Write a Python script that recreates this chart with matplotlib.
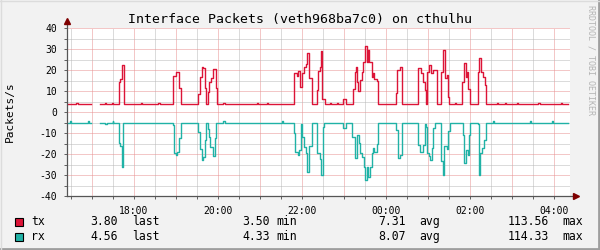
# -*- coding: utf-8 -*-

"""
Interface packets graph, rrdtool style
"""

import matplotlib
matplotlib.use('Agg')
import matplotlib.pyplot as plt
import numpy as np


# =============================================================================
# Data (hours since midnight of the first day, values in packets/s)
# =============================================================================
TX_T = [16.40, 16.62, 16.66, 16.97, 17.19, 17.30, 17.33, 17.48, 17.51, 17.64,
        17.67, 17.71, 17.76, 18.16, 18.19, 18.58, 18.61, 18.94, 18.99, 19.07,
        19.12, 19.53, 19.57, 19.62, 19.64, 19.68, 19.71, 19.75, 19.79, 19.83,
        19.89, 19.95, 19.98, 20.13, 20.16, 20.92, 20.95, 21.16, 21.19, 21.82,
        21.87, 21.91, 21.95, 22.00, 22.05, 22.10, 22.13, 22.17, 22.23, 22.35,
        22.38, 22.43, 22.46, 22.48, 22.55, 22.67, 22.69, 22.83, 22.85, 22.98,
        23.04, 23.22, 23.26, 23.29, 23.31, 23.34, 23.38, 23.42, 23.46, 23.50,
        23.54, 23.56, 23.60, 23.66, 23.68, 23.71, 23.78, 23.82, 24.24, 24.27,
        24.33, 24.38, 24.77, 24.83, 24.89, 24.93, 24.95, 24.98, 25.03, 25.06,
        25.11, 25.21, 25.31, 25.36, 25.40, 25.44, 25.48, 25.51, 25.64, 25.67,
        25.82, 25.86, 25.90, 25.93, 25.96, 26.00, 26.18, 26.22, 26.26, 26.32,
        26.36, 26.37, 26.64, 26.67, 26.83, 26.86, 27.11, 27.14, 27.63, 27.66,
        28.17, 28.20, 28.33]
TX_V = [3.7, 4.4, 3.7, np.nan, 3.7, 4.3, 3.7, 4.3, 3.7, 14.1,
        15.6, 22.4, 3.7, 4.3, 3.7, 4.3, 3.7, 17.3, 18.9, 11.3,
        3.7, 8.5, 16.6, 21.6, 20.8, 11.3, 3.7, 9.3, 14.4, 16.0,
        20.3, 11.3, 3.7, 4.4, 3.7, 4.4, 3.7, 4.4, 3.7, 18.4,
        17.3, 19.7, 12.0, 18.4, 21.6, 23.0, 28.0, 16.0, 3.7, 10.5,
        19.7, 21.6, 29.2, 6.0, 3.7, 4.3, 3.7, 4.3, 3.7, 6.0,
        3.7, 10.8, 19.2, 21.6, 14.4, 10.0, 15.2, 19.2, 24.0, 31.4,
        24.0, 29.5, 24.0, 16.5, 18.7, 15.6, 15.0, 3.7, 8.9, 20.0,
        21.6, 3.7, 20.8, 18.4, 14.1, 10.5, 3.7, 19.2, 22.4, 18.4,
        20.0, 3.7, 19.2, 29.5, 16.0, 17.5, 7.3, 3.7, 4.3, 3.7,
        14.4, 23.5, 16.8, 19.2, 10.8, 3.7, 19.2, 25.6, 19.2, 16.7,
        12.9, 3.7, 4.3, 3.7, 4.3, 3.7, 4.3, 3.7, 4.3, 3.7,
        4.3, 3.7, 3.7]

RX_T = [16.40, 16.48, 16.50, 16.91, 16.94, 16.97, 17.19, 17.30, 17.35, 17.49,
        17.51, 17.64, 17.67, 17.71, 17.75, 18.93, 18.96, 18.99, 19.03, 19.07,
        19.11, 19.53, 19.58, 19.62, 19.64, 19.68, 19.71, 19.75, 19.78, 19.81,
        19.87, 19.93, 19.96, 20.13, 20.16, 21.52, 21.55, 21.80, 21.84, 21.90,
        21.94, 21.98, 22.01, 22.04, 22.09, 22.13, 22.17, 22.24, 22.36, 22.43,
        22.46, 22.49, 22.52, 22.98, 23.04, 23.20, 23.25, 23.27, 23.31, 23.36,
        23.39, 23.43, 23.48, 23.51, 23.55, 23.57, 23.62, 23.66, 23.69, 23.72,
        23.78, 23.82, 24.23, 24.29, 24.34, 24.38, 24.77, 24.81, 24.89, 24.93,
        24.95, 24.97, 25.03, 25.05, 25.09, 25.13, 25.17, 25.31, 25.36, 25.38,
        25.44, 25.48, 25.52, 25.83, 25.86, 25.91, 25.94, 25.98, 26.01, 26.18,
        26.21, 26.24, 26.29, 26.34, 26.37, 26.55, 26.58, 27.43, 27.46, 27.95,
        27.98, 28.33]
RX_V = [-5.0, -4.5, -5.0, -4.5, -5.0, np.nan, -5.0, -5.5, -5.0, -4.5,
        -5.0, -14.9, -16.3, -26.0, -5.0, -6.0, -19.4, -20.5, -19.0, -12.5,
        -5.0, -9.4, -17.8, -22.9, -21.4, -13.3, -5.0, -8.3, -11.7, -16.5,
        -21.0, -12.5, -5.0, -4.4, -5.0, -4.4, -5.0, -10.2, -19.0, -20.5,
        -18.0, -5.7, -11.7, -16.5, -19.7, -28.4, -16.4, -5.0, -19.7, -22.5,
        -30.0, -7.0, -5.0, -7.4, -5.0, -11.7, -19.7, -22.0, -11.0, -14.9,
        -19.7, -21.6, -26.0, -32.4, -26.0, -30.8, -26.0, -19.7, -17.3, -19.0,
        -15.4, -5.0, -8.5, -22.0, -20.5, -5.0, -15.9, -19.0, -15.9, -5.5,
        -7.0, -19.7, -21.0, -22.9, -17.3, -7.5, -5.0, -23.3, -30.0, -16.2,
        -17.8, -8.9, -5.0, -11.0, -24.5, -18.1, -20.5, -11.0, -5.0, -5.5,
        -30.0, -19.7, -17.3, -13.3, -5.0, -4.4, -5.0, -4.4, -5.0, -4.4,
        -5.0, -5.0]

X_TICKS = [18, 20, 22, 24, 26, 28]
X_LABELS = ['18:00', '20:00', '22:00', '00:00', '02:00', '04:00']
Y_TICKS = [-40, -30, -20, -10, 0, 10, 20, 30, 40]

SERIES = ['tx', 'rx']
LAST = ['3.80', '4.56']
MIN = ['3.50', '4.33']
AVG = ['7.31', '8.07']
MAX = ['113.56', '114.33']

TITLE = 'Interface Packets (veth968ba7c0) on cthulhu'

# =============================================================================
# Style
# =============================================================================
W, H = 600, 250
X0, X1 = 16.405, 28.38
COLORS = ['#DC1437', '#20B2A6']
MONO = 'DejaVu Sans Mono'
MGRID = '#E89090'
GRID = '#B8B8B8'
plt.rcParams['lines.scale_dashes'] = False
DOT = (0, (0.72, 0.72))  # 1px on, 1px off


def fx(px):
    return px / W


def fy(py):
    return 1 - py / H


fig = plt.figure(figsize=(W / 100, H / 100), dpi=100)
fig.patch.set_facecolor('#F2F2F2')

# canvas
ax = fig.add_axes([fx(67), fy(196), (570 - 67) / W, (196 - 28) / H])
ax.set_facecolor('white')
ax.set_xlim(X0, X1)
ax.set_ylim(-40, 40)
for s in ax.spines.values():
    s.set_visible(False)

# grid
for h in np.arange(16.5, 28.5, 0.5):
    major = float(h).is_integer()
    ax.axvline(h, color=MGRID if major else GRID, lw=0.72, ls=DOT, zorder=1)
for v in range(-40, 41, 5):
    ax.axhline(v, color=MGRID if v % 10 == 0 else GRID, lw=0.72, ls=DOT,
               zorder=1)

# data
ax.step(TX_T, TX_V, where='post', color=COLORS[0], lw=1.0, zorder=3)
ax.step(RX_T, RX_V, where='post', color=COLORS[1], lw=1.0, zorder=3)

# ticks
ax.set_xticks(X_TICKS)
ax.set_xticklabels(X_LABELS, family=MONO, fontsize=7)
ax.set_xticks(np.arange(16.5, 28.5, 0.5), minor=True)
ax.set_yticks(Y_TICKS)
ax.set_yticklabels([str(v) for v in Y_TICKS], family=MONO, fontsize=7)
ax.set_yticks(range(-35, 40, 10), minor=True)
ax.tick_params(which='both', length=2, width=0.7, color='#606060', pad=5)

# axes lines with arrows
ax.plot([0, 0], [0, 1.04], transform=ax.transAxes, color='#555555',
        lw=0.9, clip_on=False, zorder=4)
ax.plot([0, 1.01], [0, 0], transform=ax.transAxes, color='#555555',
        lw=0.9, clip_on=False, zorder=4)
ax.plot([0], [1.04], transform=ax.transAxes, marker='^', color='#7F0000',
        ms=5, clip_on=False, zorder=5)
ax.plot([1.012], [0], transform=ax.transAxes, marker='>', color='#7F0000',
        ms=5, clip_on=False, zorder=5)

# texts
fig.text(fx(300), fy(19), TITLE, family=MONO, fontsize=9.5,
         ha='center', va='center')
fig.text(fx(10), fy(112), 'Packets/s', family=MONO, fontsize=8,
         rotation=90, ha='center', va='center')
fig.text(fx(591), fy(60), 'RRDTOOL / TOBI OETIKER', family=MONO,
         fontsize=6, color='#B4B4B4', rotation=270, ha='center',
         va='center')

# legend
rows = [221.5, 236.5]
for i, name in enumerate(SERIES):
    y = fy(rows[i])
    fig.patches.append(plt.Rectangle((fx(15), fy(rows[i] + 4)), 8 / W,
                                     8 / H, transform=fig.transFigure,
                                     facecolor=COLORS[i], edgecolor='black',
                                     lw=0.8))
    fig.text(fx(31), y, name, family=MONO, fontsize=8.3, va='center')
    fig.text(fx(118), y, LAST[i], family=MONO, fontsize=8.3,
             ha='right', va='center')
    fig.text(fx(132), y, 'last', family=MONO, fontsize=8.3, va='center')
    fig.text(fx(270), y, MIN[i], family=MONO, fontsize=8.3,
             ha='right', va='center')
    fig.text(fx(276), y, 'min', family=MONO, fontsize=8.3, va='center')
    fig.text(fx(406), y, AVG[i], family=MONO, fontsize=8.3,
             ha='right', va='center')
    fig.text(fx(419), y, 'avg', family=MONO, fontsize=8.3, va='center')
    fig.text(fx(549), y, MAX[i], family=MONO, fontsize=8.3,
             ha='right', va='center')
    fig.text(fx(562), y, 'max', family=MONO, fontsize=8.3, va='center')

# frame shading
fig.add_artist(plt.Line2D([0, 1], [fy(248.5)] * 2, color='#9E9E9E', lw=2))
fig.add_artist(plt.Line2D([fx(598.5)] * 2, [0, 1], color='#9E9E9E', lw=2))
fig.add_artist(plt.Line2D([0, 1], [fy(0.5)] * 2, color='#DCDCDC', lw=1))
fig.add_artist(plt.Line2D([fx(0.5)] * 2, [0, 1], color='#DCDCDC', lw=1))

fig.savefig('out.png', dpi=100, facecolor=fig.get_facecolor())
